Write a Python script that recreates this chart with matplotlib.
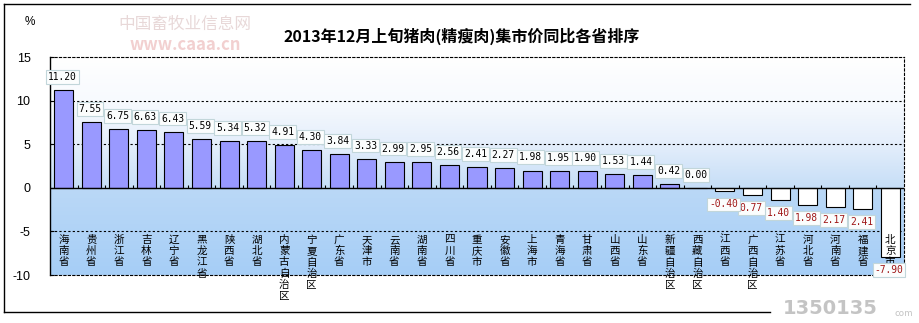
import numpy as np
import matplotlib
matplotlib.use("Agg")
from matplotlib import pyplot as plt
from matplotlib.colors import LinearSegmentedColormap
from matplotlib.lines import Line2D

plt.rcParams['font.family'] = ['Noto Sans CJK SC', 'DejaVu Sans']

provinces = ["海南省", "贵州省", "浙江省", "吉林省", "辽宁省", "黑龙江省", "陕西省", "湖北省",
             "内蒙古自治区", "宁夏自治区", "广东省", "天津市", "云南省", "湖南省", "四川省",
             "重庆市", "安徽省", "上海市", "青海省", "甘肃省", "山西省", "山东省",
             "新疆自治区", "西藏自治区", "江西省", "广西自治区", "江苏省", "河北省",
             "河南省", "福建省", "北京市"]
change = [11.20, 7.55, 6.75, 6.63, 6.43, 5.59, 5.34, 5.32, 4.91, 4.30, 3.84, 3.33,
          2.99, 2.95, 2.56, 2.41, 2.27, 1.98, 1.95, 1.90, 1.53, 1.44, 0.42, 0.00,
          -0.40, -0.77, -1.40, -1.98, -2.17, -2.41, -7.90]
# labels as printed on the chart (some negatives shown without sign)
value_labels = ["11.20", "7.55", "6.75", "6.63", "6.43", "5.59", "5.34", "5.32", "4.91",
                "4.30", "3.84", "3.33", "2.99", "2.95", "2.56", "2.41", "2.27", "1.98",
                "1.95", "1.90", "1.53", "1.44", "0.42", "0.00", "-0.40", "0.77", "1.40",
                "1.98", "2.17", "2.41", "-7.90"]
yticks = [-10, -5, 0, 5, 10, 15]
title = "2013年12月上旬猪肉(精瘦肉)集市价同比各省排序"

W, H = 920, 323
fig = plt.figure(figsize=(W / 100, H / 100), dpi=100)
ax = fig.add_axes([50 / W, 1 - 275 / H, 854 / W, 218 / H])

n = len(provinces)
x = np.arange(n)
ax.set_xlim(-0.5, n - 0.5)
ax.set_ylim(-10, 15)

# background gradient
cmap = LinearSegmentedColormap.from_list(
    "bg", [(0, "#ffffff"), (0.2, "#f7fafe"), (0.4, "#e4eefb"), (0.6, "#c6def7"),
           (0.61, "#bad8f7"), (1.0, "#a6cef6")])
grad = np.linspace(0, 1, 256).reshape(-1, 1)
ax.imshow(grad, cmap=cmap, aspect="auto", extent=(-0.5, n - 0.5, -10, 15),
          origin="upper", zorder=0)

colors = ["#9999ff" if v > 0 else "white" for v in change]
ax.bar(x, change, width=0.69, color=colors, edgecolor="black", linewidth=0.8, zorder=3)

for g in [-5, 5, 10]:
    ax.axhline(g, color="black", linestyle=(0, (2, 2)), linewidth=0.8, zorder=1)
ax.axhline(0, color="black", linewidth=1.0, zorder=4)
ax.vlines(x[:-1] + 0.5, 0, 0.35, color="black", linewidth=0.8, zorder=4)

for side in ["top", "right", "bottom"]:
    ax.spines[side].set_linestyle((0, (2, 2)))
    ax.spines[side].set_linewidth(0.8)
ax.spines["left"].set_linewidth(1.0)

ax.set_xticks([])
ax.set_yticks(yticks)
ax.set_yticklabels([str(t) for t in yticks], fontfamily="Liberation Sans", fontsize=9)
ax.tick_params(axis="y", direction="in", length=3, pad=14)

for i, (xi, v, lab) in enumerate(zip(x, change, value_labels)):
    off = 9.5 if v >= 0 else -9.5
    # left boxes on top below the axis so the minus signs stay visible
    z = 6 + (i if v >= 0 else n - i) * 0.01
    ax.annotate(lab, (xi, v), xytext=(-1, off), textcoords="offset points",
                ha="center", va="center", fontsize=6.9, fontfamily="DejaVu Sans Mono",
                color="black" if v >= 0 else "#a01818", zorder=z,
                bbox=dict(boxstyle="square,pad=0.2", fc="#fbfdfd", ec="#c2d6da", lw=0.8))

# category names, one character under another
for xi, name in zip(x, provinces):
    for j, ch in enumerate(name):
        ax.annotate(ch, (xi, -5), xytext=(0, -2.5 - 8.1 * j), textcoords="offset points",
                    ha="center", va="top", fontsize=7.6, zorder=5, annotation_clip=False)

fig.text(462 / W, 1 - 36 / H, title, ha="center", va="center", fontsize=11.5,
         fontweight="bold")
fig.text(30 / W, 1 - 22 / H, "%", ha="center", va="center", fontsize=8.5,
         fontfamily="Liberation Sans")

# watermarks
fig.text(185 / W, 1 - 24 / H, "中国畜牧业信息网", ha="center", va="center", fontsize=12,
         color="#e8d8d8", style="italic", zorder=0)
fig.text(185 / W, 1 - 45 / H, "www.caaa.cn", ha="center", va="center", fontsize=12,
         color="#f2d0d0", fontweight="bold", zorder=0)
fig.text(830 / W, 1 - 309 / H, "1350135", ha="center", va="center", fontsize=14,
         color="#c4c4c4", fontweight="bold", fontfamily="DejaVu Sans")
fig.text(904 / W, 1 - 313 / H, "com", ha="center", va="center", fontsize=6.5,
         color="#c4c4c4")

# outer frame
fig.add_artist(Line2D([4 / W, 910 / W], [1 - 4 / H, 1 - 4 / H], color="black", lw=1,
                      transform=fig.transFigure))
fig.add_artist(Line2D([4 / W, 770 / W], [1 - 312 / H, 1 - 312 / H], color="black", lw=1,
                      transform=fig.transFigure))
fig.add_artist(Line2D([4 / W, 4 / W], [1 - 4 / H, 1 - 312 / H], color="black", lw=1,
                      transform=fig.transFigure))

fig.savefig("out.png", dpi=100)
